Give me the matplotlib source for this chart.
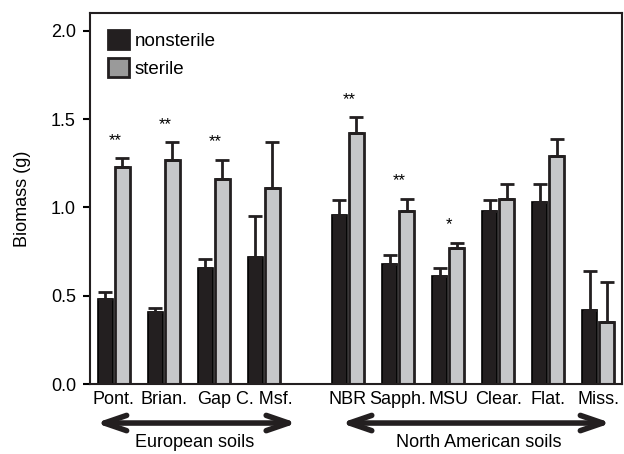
import matplotlib
matplotlib.use('Agg')
import matplotlib.pyplot as plt
import matplotlib.transforms as mtransforms
from matplotlib.patches import Patch
import numpy as np

plt.rcParams['font.family'] = ['Liberation Sans', 'DejaVu Sans']

# soil names as on the x axis
soils = ['Pont.', 'Brian.', 'Gap', 'C. Msf.',
         'NBR', 'Sapph.', 'MSU', 'Clear.', 'Flat.', 'Miss.']

# mean biomass (g) and upper error
nonsterile = [0.48, 0.41, 0.66, 0.72, 0.96, 0.68, 0.61, 0.98, 1.03, 0.42]
nonsterile_err = [0.04, 0.02, 0.05, 0.23, 0.08, 0.05, 0.05, 0.06, 0.10, 0.22]
sterile = [1.23, 1.27, 1.16, 1.11, 1.42, 0.98, 0.77, 1.05, 1.29, 0.35]
sterile_err = [0.05, 0.10, 0.11, 0.26, 0.09, 0.07, 0.03, 0.08, 0.10, 0.23]

# significance marks
stars = ['**', '**', '**', '', '**', '**', '*', '', '', '']

dark = '#231f20'
light = '#c6c7c9'

# positions: 4 european soils, a gap, then 6 north american ones
pos = np.concatenate([np.arange(4), np.arange(6) + 4.68])

fig = plt.figure(figsize=(6.24, 4.54), dpi=100)
ax = fig.add_axes([0.144, 0.154, 0.853, 0.817])

w = 0.31
off = 0.17
ekw = dict(ecolor=dark, elinewidth=2, capsize=5, capthick=2)
ax.bar(pos - off, nonsterile, w, color=dark, edgecolor='black', linewidth=1.2,
       yerr=[np.zeros(10), nonsterile_err], error_kw=ekw)
ax.bar(pos + off, sterile, w, color=light, edgecolor=dark, linewidth=2,
       yerr=[np.zeros(10), sterile_err], error_kw=ekw)

for i in range(len(soils)):
    if stars[i]:
        ax.text(pos[i] + 0.02, sterile[i] + sterile_err[i] + 0.1, stars[i],
                ha='center', va='center', fontsize=12)

ax.set_xlim(-0.48, 10.16)
ax.set_ylim(0, 2.1)
ax.set_yticks([0, 0.5, 1.0, 1.5, 2.0])
ax.set_yticklabels(['0.0', '0.5', '1.0', '1.5', '2.0'])
ax.set_xticks(pos)
ax.set_xticklabels(soils)
ax.tick_params(axis='x', length=0, labelsize=13, pad=5)
ax.tick_params(axis='y', length=5, width=1.5, labelsize=13, direction='out', pad=5)
ax.set_ylabel('Biomass (g)', fontsize=13, labelpad=14)
for s in ax.spines.values():
    s.set_linewidth(1.5)
    s.set_color(dark)

handles = [Patch(facecolor=dark, edgecolor=dark, linewidth=2, label='nonsterile'),
           Patch(facecolor='#9a9a9a', edgecolor=dark, linewidth=2, label='sterile')]
ax.legend(handles=handles, loc='upper left', bbox_to_anchor=(0.005, 0.995), frameon=False,
          fontsize=13.5, handlelength=1.15, handleheight=1.15, handletextpad=0.3,
          labelspacing=0.45, borderaxespad=0.4)

# group arrows below axis
trans = mtransforms.blended_transform_factory(ax.transData, ax.transAxes)
arrow = dict(arrowstyle='<->,head_length=1.6,head_width=0.55', lw=4, color=dark,
             shrinkA=0, shrinkB=0)
ax.annotate('', xy=(-0.36, -0.105), xytext=(3.66, -0.105), xycoords=trans,
            textcoords=trans, arrowprops=arrow, annotation_clip=False)
ax.annotate('', xy=(4.54, -0.105), xytext=(9.94, -0.105), xycoords=trans,
            textcoords=trans, arrowprops=arrow, annotation_clip=False)
ax.text(1.62, -0.158, 'European soils', transform=trans, ha='center', va='center', fontsize=13)
ax.text(7.3, -0.158, 'North American soils', transform=trans, ha='center', va='center', fontsize=13)

fig.savefig('out.png', dpi=100)
